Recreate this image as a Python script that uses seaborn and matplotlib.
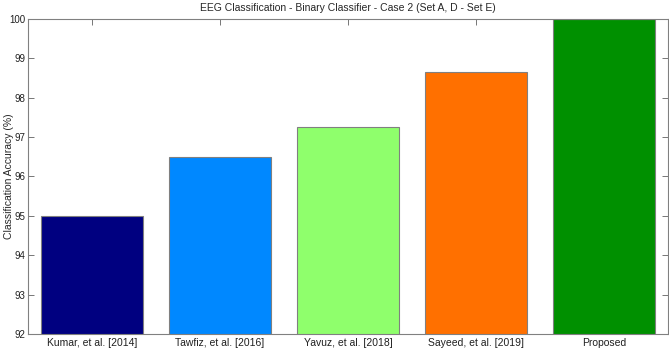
import matplotlib
matplotlib.use("Agg")
import matplotlib.pyplot as plt
import seaborn as sns
import pandas as pd

# data
methods = ["Kumar, et al. [2014]", "Tawfiz, et al. [2016]", "Yavuz, et al. [2018]",
           "Sayeed, et al. [2019]", "Proposed"]
accuracy = [95.0, 96.5, 97.25, 98.66, 100.0]
bar_colors = ["#000080", "#0088FF", "#8FFF6C", "#FF7000", "#009000"]
y_ticks = [92, 93, 94, 95, 96, 97, 98, 99, 100]

df = pd.DataFrame({"Method": methods, "Accuracy": accuracy})

sns.set_style("white")
plt.rcParams["font.family"] = ["Liberation Sans", "DejaVu Sans"]

fig = plt.figure(figsize=(6.69, 3.54), dpi=100)
ax = fig.add_axes([0.042, 0.0565, 0.9565, 0.89])

sns.barplot(data=df, x="Method", y="Accuracy", hue="Method", palette=bar_colors,
            width=0.8, edgecolor="#808080", linewidth=0.8, legend=False, ax=ax,
            saturation=1)

ax.set_xlim(-0.5, 4.5)
ax.set_ylim(92, 100)
ax.set_yticks(y_ticks)
ax.set_yticklabels([str(t) for t in y_ticks])
ax.set_xlabel("")
ax.set_ylabel("Classification Accuracy (%)", fontsize=7.5)
ax.yaxis.set_label_coords(-0.022, 0.5)
ax.set_title("EEG Classification - Binary Classifier - Case 2 (Set A, D - Set E)",
             fontsize=7.5, pad=6)

ax.tick_params(axis="both", direction="in", length=4, width=0.6, color="#606060",
               labelsize=7, labelcolor="#202020", top=True, right=True,
               bottom=True, left=True, pad=2)
ax.tick_params(axis="x", labelsize=7.5, pad=3)
for s in ax.spines.values():
    s.set_color("#808080")
    s.set_linewidth(0.8)

plt.savefig("out.png", dpi=100)
plt.close()
